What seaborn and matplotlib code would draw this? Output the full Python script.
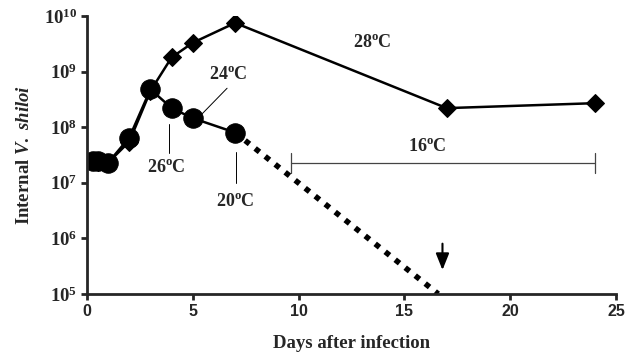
import math
import matplotlib
matplotlib.use("Agg")
import matplotlib.pyplot as plt
import matplotlib.ticker as mticker
import seaborn as sns

# valores
dias_28 = [0.3, 0.5, 1.0, 2.0, 3.0, 4.0, 5.0, 7.0, 17.0, 24.0]
vib_28 = [2.5e7, 2.4e7, 2.3e7, 5.5e7, 4.5e8, 1.8e9, 3.3e9, 7.5e9, 2.2e8, 2.7e8]

dias_var = [0.3, 0.5, 1.0, 2.0, 3.0, 4.0, 5.0, 7.0]
vib_var = [2.5e7, 2.5e7, 2.3e7, 6.5e7, 4.8e8, 2.2e8, 1.45e8, 8.0e7]

dias_extra = [7.0, 16.6]
vib_extra = [8.0e7, 1.0e5]

x_ticks = [0, 5, 10, 15, 20, 25]
y_ticks = [1e5, 1e6, 1e7, 1e8, 1e9, 1e10]

sns.set_style("ticks")
plt.rcParams["font.family"] = ["Liberation Serif", "DejaVu Serif"]
plt.rcParams["font.weight"] = "bold"
plt.rcParams["mathtext.fontset"] = "custom"
plt.rcParams["mathtext.rm"] = "Liberation Serif:bold"
plt.rcParams["mathtext.it"] = "Liberation Serif:bold:italic"
plt.rcParams["mathtext.bf"] = "Liberation Serif:bold"

fig = plt.figure(figsize=(6.37, 3.55), dpi=100)
ax = fig.add_axes([0.1366, 0.172, 0.8304, 0.783])

sns.lineplot(x=dias_extra, y=vib_extra, ax=ax, color="black",
             linewidth=4.0, linestyle=(0, (1.0, 1.3)))
sns.lineplot(x=dias_var, y=vib_var, ax=ax, color="black", linewidth=1.8,
             marker="o", markersize=14, markeredgecolor="black")
sns.lineplot(x=dias_28, y=vib_28, ax=ax, color="black", linewidth=1.8,
             marker="D", markersize=9.5, markeredgecolor="black")

ax.set_yscale("log")
ax.set_xlim(0, 25)
ax.set_ylim(1e5, 1e10)
ax.set_xticks(x_ticks)
ax.set_yticks(y_ticks)
ax.yaxis.set_minor_locator(mticker.NullLocator())
ax.yaxis.set_major_formatter(mticker.FuncFormatter(
    lambda v, p: r"$\mathrm{10^{%d}}$" % round(math.log10(v))))

for lab in ax.get_xticklabels():
    lab.set_fontfamily("Liberation Sans")
    lab.set_fontweight("bold")
    lab.set_fontsize(11.5)
for lab in ax.get_yticklabels():
    lab.set_fontsize(13.5)

sns.despine(ax=ax)
for s in ["left", "bottom"]:
    ax.spines[s].set_linewidth(2.0)
ax.tick_params(axis="both", length=4, width=2, pad=3)

ax.set_xlabel("Days after infection", fontsize=13.5, fontweight="bold", labelpad=12)
ax.set_ylabel(r"Internal $\mathit{V.\ shiloi}$", fontsize=13.5,
              fontweight="bold", labelpad=8)

t_kw = dict(fontsize=13, fontweight="bold", ha="center", va="center")
ax.text(13.5, 3.4e9, r"28$^\mathrm{o}$C", **t_kw)
ax.text(6.66, 8.9e8, r"24$^\mathrm{o}$C", **t_kw)
ax.text(3.73, 10**7.28, r"26$^\mathrm{o}$C", **t_kw)
ax.text(6.99, 10**6.67, r"20$^\mathrm{o}$C", **t_kw)
ax.text(16.1, 10**7.66, r"16$^\mathrm{o}$C", **t_kw)

# líneas guía de las etiquetas
ax.plot([6.62, 5.39], [10**8.70, 10**8.22], color="black", lw=0.7)
ax.plot([3.88, 3.88], [10**8.05, 10**7.53], color="black", lw=0.7)
ax.plot([7.04, 7.04], [10**7.55, 10**6.99], color="black", lw=0.7)

# corchete de 16 grados
ax.plot([9.64, 24.0], [10**7.35, 10**7.35], color="#444444", lw=0.9)
ax.plot([9.64, 9.64], [10**7.53, 10**7.17], color="#444444", lw=0.9)
ax.plot([24.0, 24.0], [10**7.53, 10**7.17], color="#444444", lw=0.9)

ax.annotate("", xy=(16.8, 2.4e5), xytext=(16.8, 9e5),
            arrowprops=dict(arrowstyle="-|>,head_width=0.4,head_length=1.0",
                            color="black", lw=1.5))

fig.savefig("out.png", dpi=100)
